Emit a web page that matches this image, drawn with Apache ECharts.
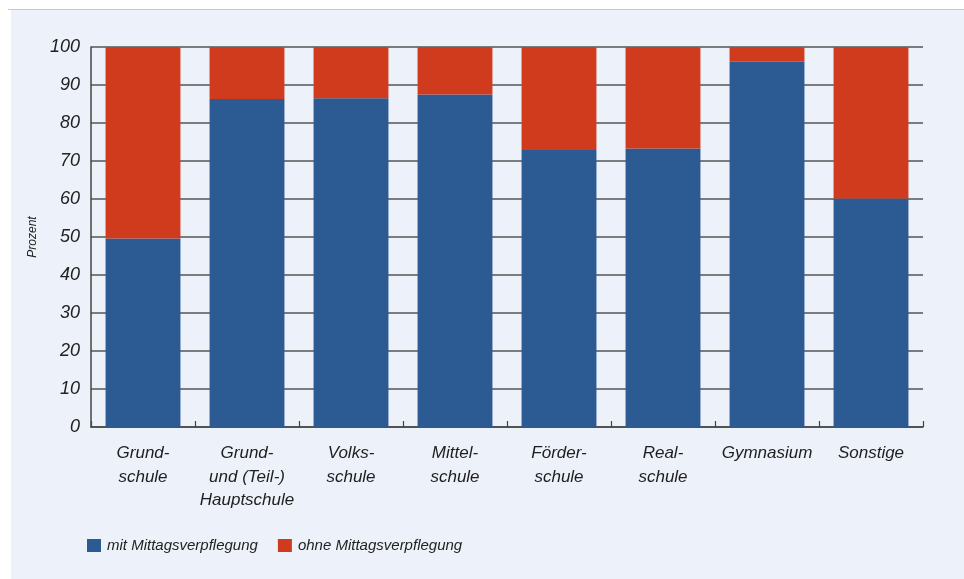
<!DOCTYPE html>
<html>
<head>
<meta charset="utf-8">
<script src="https://cdn.jsdelivr.net/npm/echarts@6/dist/echarts.min.js"></script>
<style>
html,body{margin:0;padding:0;background:#fff;}
#topline{position:absolute;left:8px;top:9px;width:956px;height:1px;background:#c8c8c8;}
#panel{position:absolute;left:11px;top:10px;width:953px;height:569px;background:#edf1f9;}
#chart{position:absolute;left:0;top:0;width:964px;height:579px;}
</style>
</head>
<body>
<div id="topline"></div>
<div id="panel"></div>
<div id="chart"></div>
<script>
const categories = ['Grund-\nschule', 'Grund-\nund (Teil-)\nHauptschule', 'Volks-\nschule', 'Mittel-\nschule', 'Förder-\nschule', 'Real-\nschule', 'Gymnasium', 'Sonstige'];
const mitValues = [49.6, 86.3, 86.5, 87.5, 72.9, 73.3, 96.1, 60.1];
const ohneValues = [50.4, 13.7, 13.5, 12.5, 27.1, 26.7, 3.9, 39.9];
const seriesNames = ['mit Mittagsverpflegung', 'ohne Mittagsverpflegung'];
const yTicks = { min: 0, max: 100, interval: 10 };
const yAxisName = 'Prozent';

const font = 'Liberation Sans, Arial, sans-serif';
const chart = echarts.init(document.getElementById('chart'));
chart.setOption({
  backgroundColor: 'transparent',
  animation: false,
  color: ['#2c5a92', '#cf3b1c'],
  grid: { left: 91, right: 41, top: 47, bottom: 152, containLabel: false },
  legend: {
    left: 82, top: 533,
    itemWidth: 14, itemHeight: 13, itemGap: 20,
    icon: 'rect',
    textStyle: { fontFamily: font, fontStyle: 'italic', fontSize: 15, color: '#222', padding: [0, 0, 0, 1] },
    data: seriesNames
  },
  xAxis: {
    type: 'category',
    data: categories,
    axisLine: { lineStyle: { color: '#444', width: 1.5 } },
    axisTick: { show: true, inside: true, length: 6, lineStyle: { color: '#444', width: 1.2 } },
    axisLabel: { interval: 0, fontFamily: font, fontStyle: 'italic', fontSize: 17, lineHeight: 23.5, color: '#1e1e1e', margin: 15 }
  },
  yAxis: {
    type: 'value',
    min: yTicks.min, max: yTicks.max, interval: yTicks.interval,
    name: yAxisName,
    nameLocation: 'middle',
    nameRotate: 90,
    nameGap: 47,
    nameTextStyle: { fontFamily: font, fontStyle: 'italic', fontSize: 12, color: '#222' },
    axisLine: { show: true, lineStyle: { color: '#444', width: 1.5 } },
    axisTick: { show: false },
    splitLine: { show: true, lineStyle: { color: '#555', width: 1.5 } },
    axisLabel: { fontFamily: font, fontStyle: 'italic', fontSize: 18, color: '#222', margin: 11 }
  },
  series: [
    { name: seriesNames[0], type: 'bar', stack: 'total', barWidth: '72%', data: mitValues },
    { name: seriesNames[1], type: 'bar', stack: 'total', barWidth: '72%', data: ohneValues }
  ]
});
</script>
</body>
</html>
